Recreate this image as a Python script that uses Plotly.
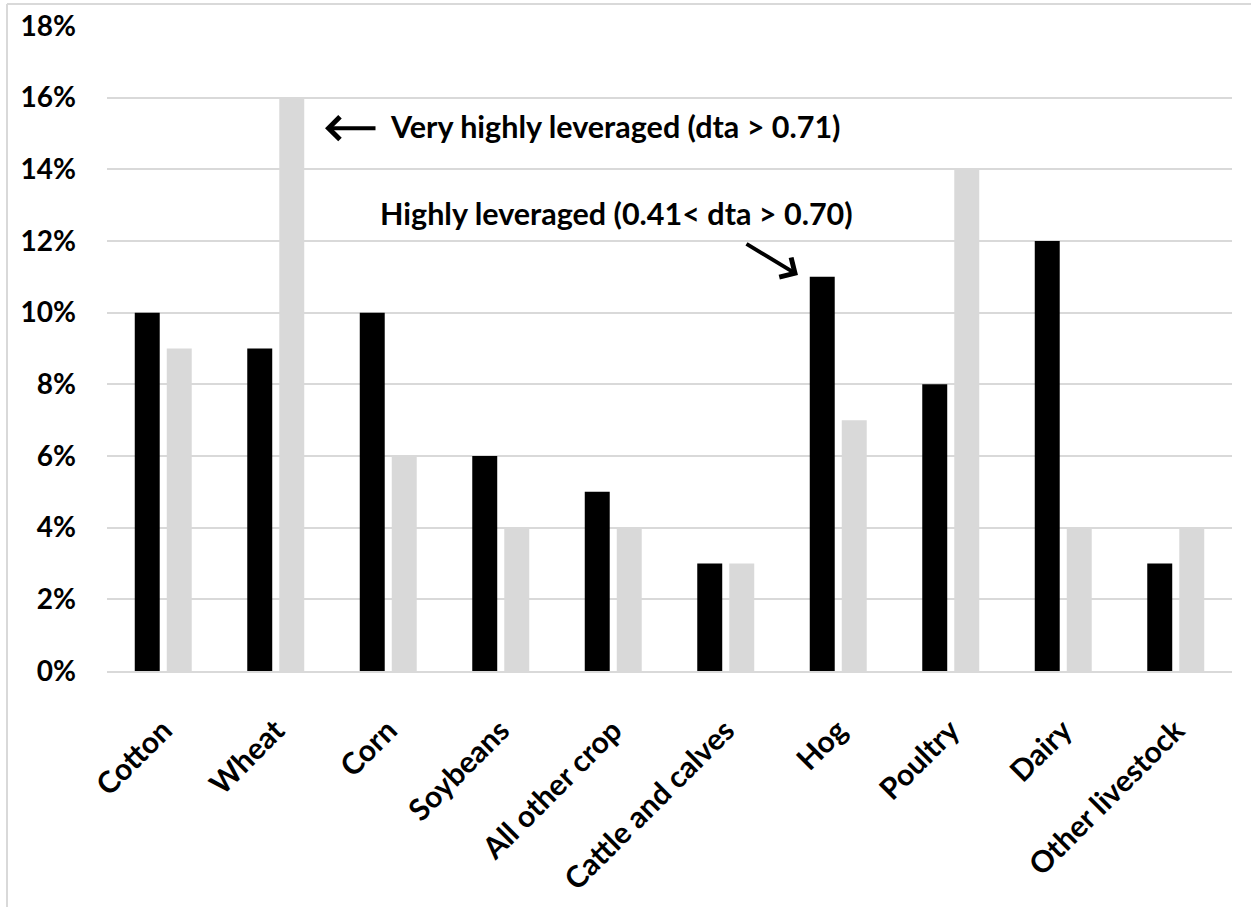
import plotly.graph_objects as go

categories = ["Cotton", "Wheat", "Corn", "Soybeans", "All other crop",
              "Cattle and calves", "Hog", "Poultry", "Dairy", "Other livestock"]
highly_leveraged = [10, 9, 10, 6, 5, 3, 11, 8, 12, 3]
very_highly_leveraged = [9, 16, 6, 4, 4, 3, 7, 14, 4, 4]
y_ticks = [0, 2, 4, 6, 8, 10, 12, 14, 16, 18]
y_tick_labels = [f"{v}%" for v in y_ticks]

FONT = "Lato"
GRID = "#d9d9d9"

fig = go.Figure()
fig.add_trace(go.Bar(x=categories, y=highly_leveraged, name="Highly leveraged",
                     marker=dict(color="#000000", line=dict(width=0))))
fig.add_trace(go.Bar(x=categories, y=very_highly_leveraged, name="Very highly leveraged",
                     marker=dict(color="#d9d9d9", line=dict(width=0))))

W, H = 1251, 907
L, R, T, B = 107, 19, 26, 236
fig.update_layout(
    width=W, height=H,
    margin=dict(l=L, r=R, t=T, b=B, pad=0, autoexpand=False),
    paper_bgcolor="white", plot_bgcolor="white",
    barmode="group", bargap=0.431, bargroupgap=0.22,
    showlegend=False,
    font=dict(family=FONT, color="#000000"),
)
fig.update_xaxes(
    tickangle=-45, tickfont=dict(family=FONT, size=30, weight="bold"),
    showline=True, linecolor=GRID, linewidth=2,
    showgrid=False, ticks="", ticklabelstandoff=28, automargin=False,
)
fig.update_yaxes(
    range=[0, 18], tickvals=y_ticks, ticktext=y_tick_labels,
    tickfont=dict(family=FONT, size=28, weight="bold"),
    showgrid=True, gridcolor=GRID, gridwidth=1.5,
    showline=False, zeroline=False, ticks="", ticklabelstandoff=30, automargin=False,
)

pw, ph = W - L - R, H - T - B
def px_x(p):
    return (p - L) / pw
def px_y(p):
    return (H - B - p) / ph

# outer frame (left and top edges)
fig.add_shape(type="line", xref="paper", yref="paper",
              x0=px_x(7), x1=px_x(7), y0=px_y(4), y1=px_y(920),
              line=dict(color=GRID, width=2))
fig.add_shape(type="line", xref="paper", yref="paper",
              x0=px_x(7), x1=px_x(1260), y0=px_y(4), y1=px_y(4),
              line=dict(color=GRID, width=2))

fig.add_annotation(x=1.438, y=15.15, ax=1.9, ay=15.15, xref="x", yref="y",
                   axref="x", ayref="y", text="", showarrow=True,
                   arrowhead=4, arrowsize=1.1, arrowwidth=4, arrowcolor="black")
fig.add_annotation(x=1.998, y=15.2, xref="x", yref="y", xanchor="left", yanchor="middle",
                   text="Very highly leveraged (dta > 0.71)", showarrow=False,
                   font=dict(family=FONT, size=30.5, weight="bold", color="black"))
fig.add_annotation(x=1.905, y=12.78, xref="x", yref="y", xanchor="left", yanchor="middle",
                   text="Highly leveraged (0.41< dta > 0.70)", showarrow=False,
                   font=dict(family=FONT, size=30.5, weight="bold", color="black"))
fig.add_annotation(x=5.642, y=11.05, ax=5.171, ay=11.945, xref="x", yref="y",
                   axref="x", ayref="y", text="", showarrow=True,
                   arrowhead=4, arrowsize=1.1, arrowwidth=4, arrowcolor="black")

fig.write_html("out.html", config={"displayModeBar": False},
               post_script="document.body.style.margin='0';")
